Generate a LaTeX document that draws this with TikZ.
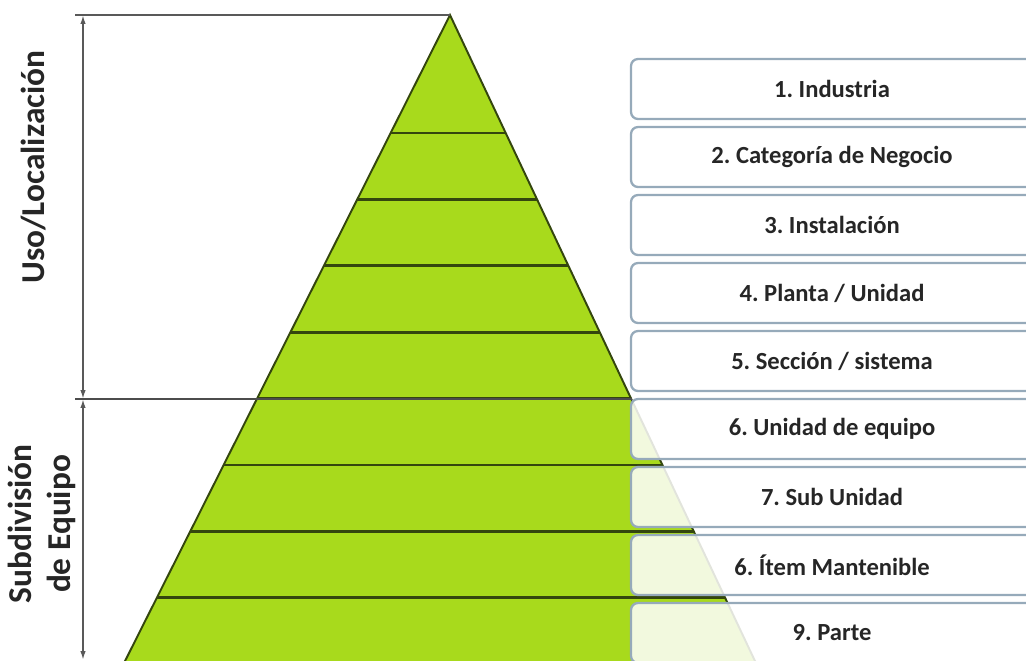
\documentclass[tikz,border=0pt]{standalone}
\usepackage{fontspec}
\setmainfont{Carlito}
\frenchspacing
\definecolor{verde}{RGB}{168,218,28}
\definecolor{borde}{RGB}{52,70,14}
\definecolor{marco}{RGB}{150,170,186}
\tikzset{
	nivel/.style={draw=marco, line width=1.3pt, rounded corners=4pt, fill=white, fill opacity=0.86, text opacity=1,
		minimum width=402*0.02cm, minimum height=60*0.02cm, inner sep=0pt,
		font=\fontsize{14}{16}\selectfont\bfseries, text=black!85},
	cota/.style={gray!70!black, line width=0.9pt, {Latex[length=5pt,width=3pt]}-{Latex[length=5pt,width=3pt]}},
	eje/.style={font=\fontsize{19}{22.5}\selectfont\bfseries, text=black!85, rotate=90, align=center}
}
\usetikzlibrary{arrows.meta}
\begin{document}
\begin{tikzpicture}[x=0.02cm, y=-0.02cm]
	\useasboundingbox (0,0) rectangle (1026,660);
	\clip (0,0) rectangle (1026,660);
	% Piramide
	\coordinate (apex) at (450,15);
	\coordinate (baseL) at (120.5,670);
	\coordinate (baseR) at (759.2,670);
	\fill[verde] (apex) -- (baseR) -- (baseL) -- cycle;
	\begin{scope}
		\clip (apex) -- (baseR) -- (baseL) -- cycle;
		\foreach \i in {0,...,7}
			\draw[borde, line width=1.5pt] (100,133+66.4*\i) -- (800,133+66.4*\i);
	\end{scope}
	\draw[borde, line width=1.1pt] (baseL) -- (apex) -- (baseR);
	% Cotas
	\coordinate (c0) at (83,15);
	\coordinate (c1) at (83,399);
	\coordinate (c2) at (83,660);
	\draw[gray!70!black, line width=0.9pt] (75,15) -- (apex);
	\draw[gray!60!black, line width=1pt] (75,399) -- (632,399);
	\draw[cota] (c0) -- (c1);
	\draw[cota] (c1) -- (c2);
	\node[eje] (uso) at (34,167) {Uso/Localización};
	\node[eje] (sub) at (42,524) {Subdivisión\\de Equipo};
	% Niveles
	\node[nivel] (n1) at (832,89) {1. Industria};
	\node[nivel] (n2) at (832,157) {2. Categoría de Negocio};
	\node[nivel] (n3) at (832,225) {3. Instalación};
	\node[nivel] (n4) at (832,293) {4. Planta / Unidad};
	\node[nivel] (n5) at (832,361) {5. Sección / sistema};
	\node[nivel] (n6) at (832,429) {6. Unidad de equipo};
	\node[nivel] (n7) at (832,497) {7. Sub Unidad};
	\node[nivel] (n8) at (832,565) {6. Ítem Mantenible};
	\node[nivel] (n9) at (832,633) {9. Parte};
\end{tikzpicture}
\end{document}
